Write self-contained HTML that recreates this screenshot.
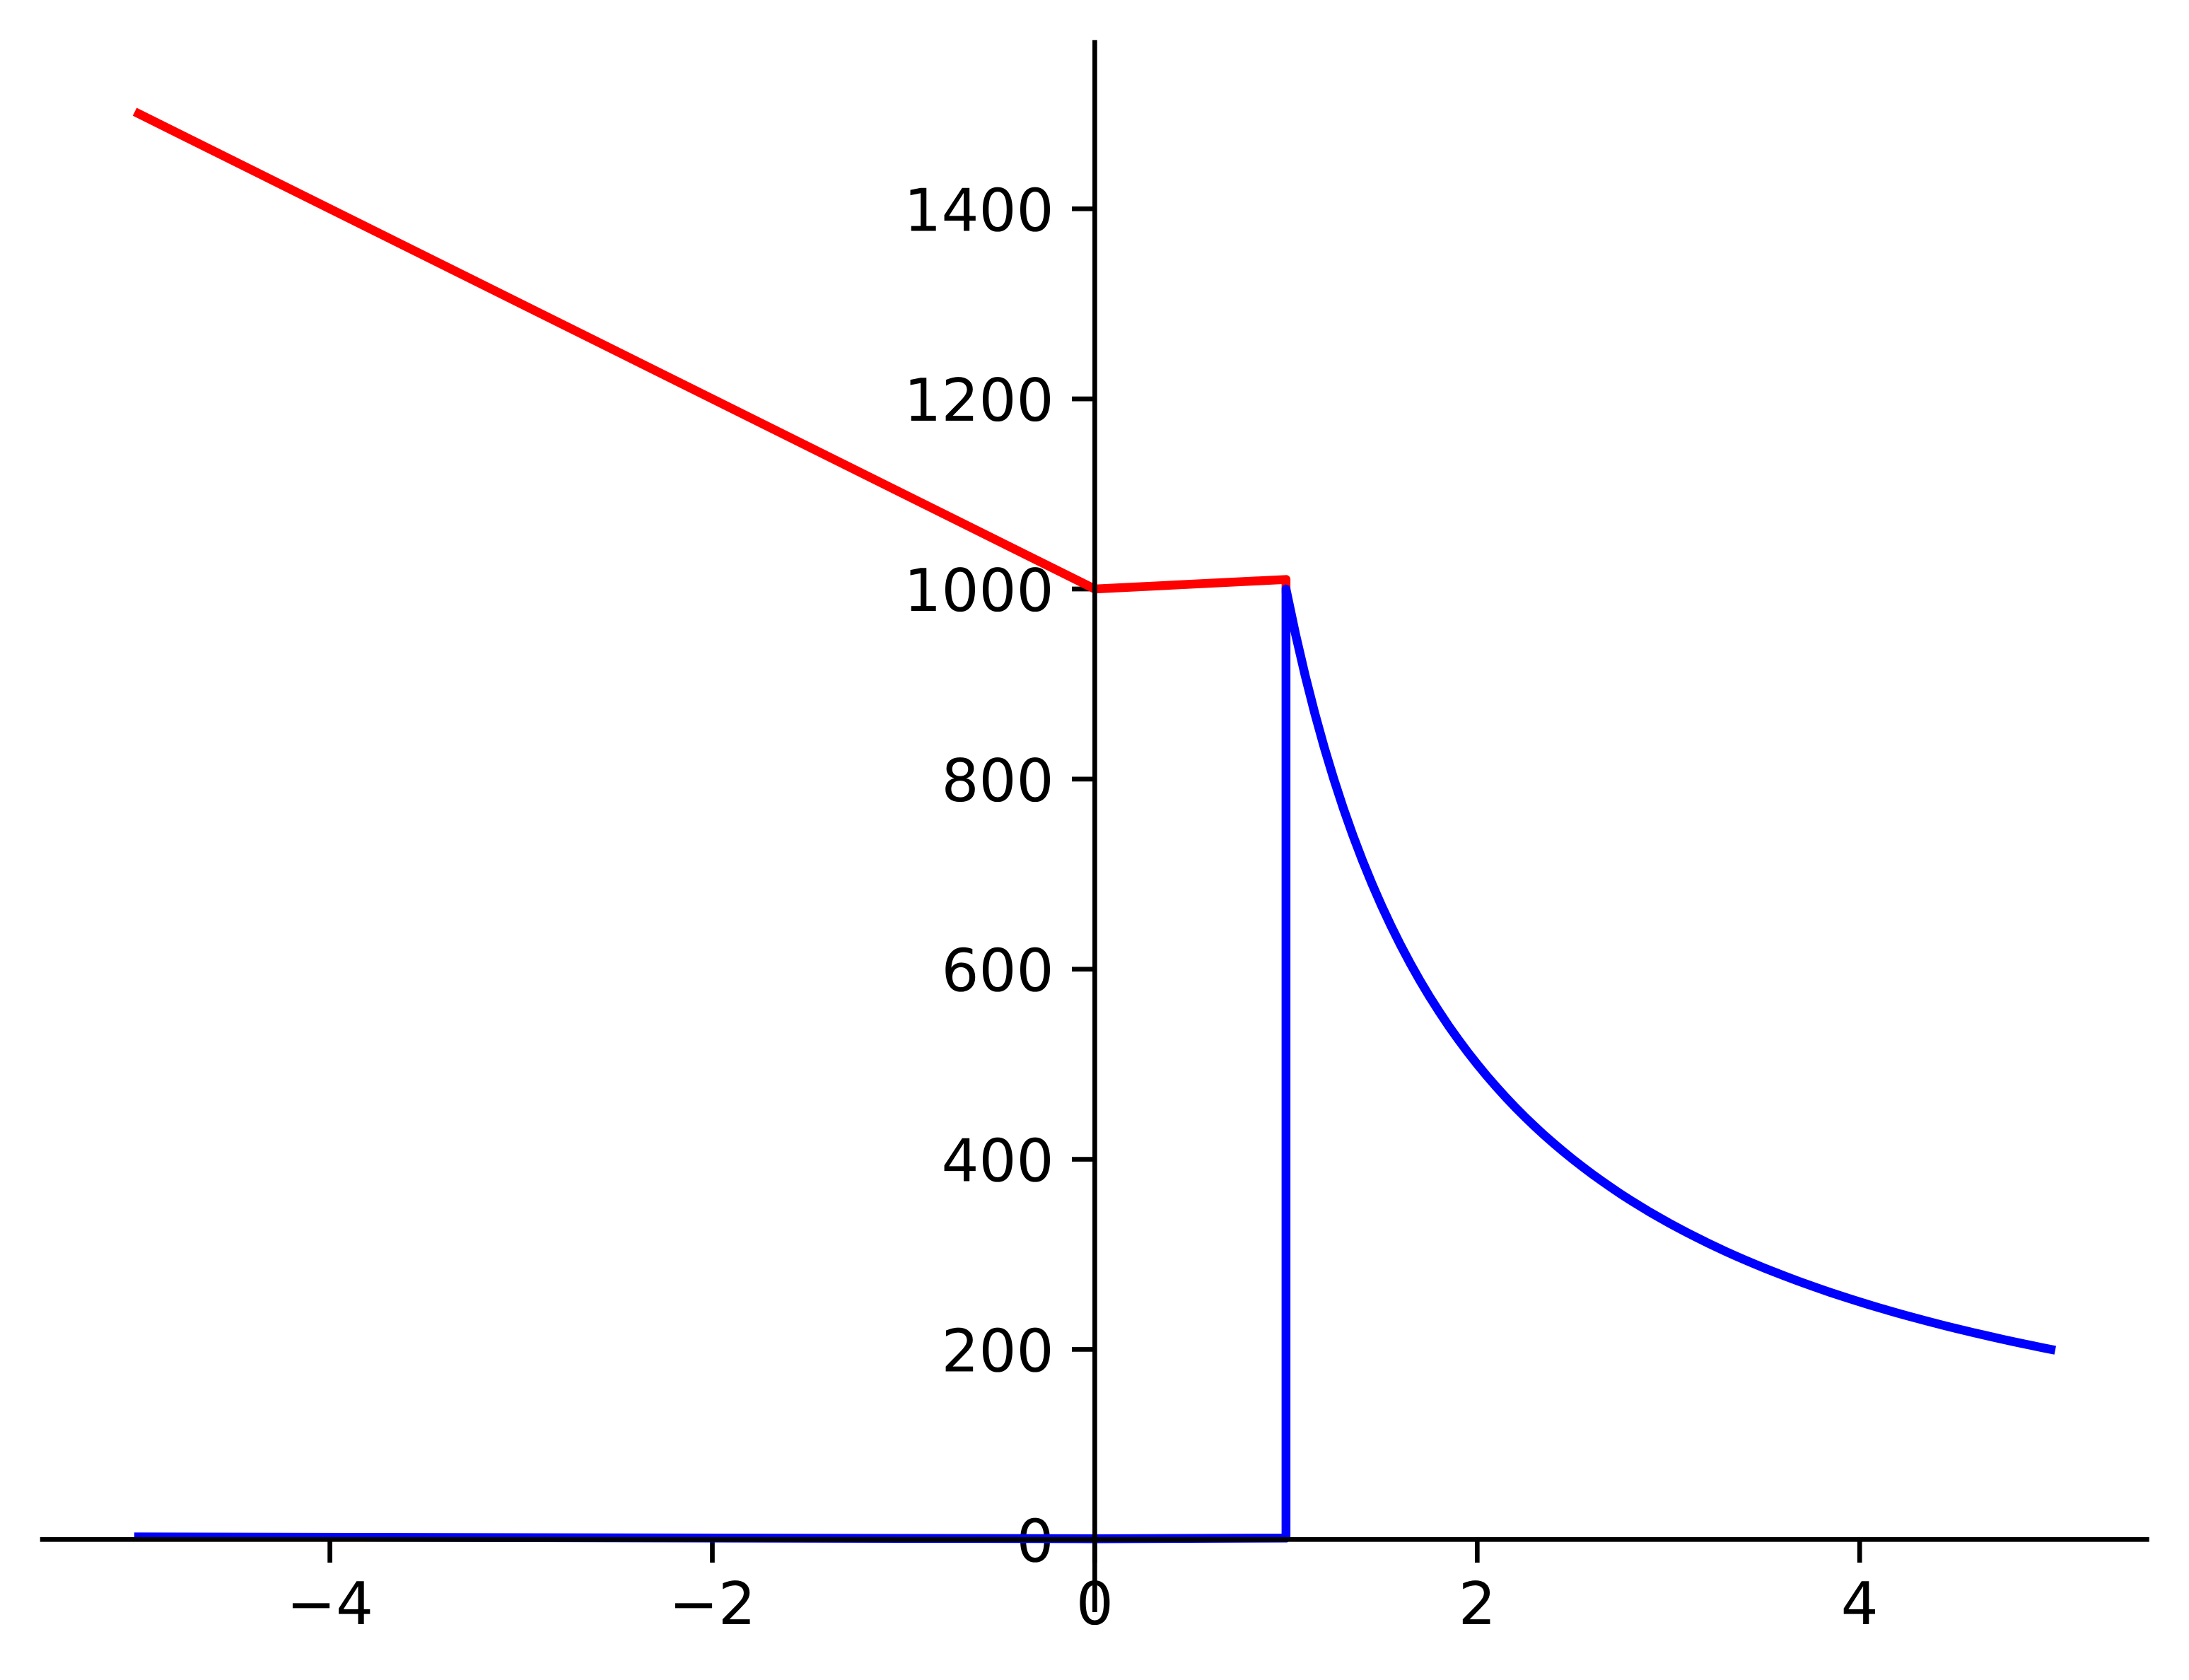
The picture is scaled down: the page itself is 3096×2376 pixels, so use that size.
<!DOCTYPE html>
<html lang="en">
<head>
<meta charset="utf-8">
<title>Piecewise line chart</title>
<style>
  html, body { margin: 0; padding: 0; background: #ffffff; }
  svg { display: block; }
  text { font-family: "DejaVu Sans", "Liberation Sans", sans-serif; font-size: 83.33px; fill: #000; text-rendering: geometricPrecision; }
</style>
</head>
<body>
<svg id="chart" xmlns="http://www.w3.org/2000/svg" width="3096" height="2376" viewBox="0 0 3096 2376">
  <rect x="0" y="0" width="3096" height="2376" fill="#ffffff"></rect>
</svg>
<script>
var xTickValues = [-4, -2, 0, 2, 4];
var xTickLabels = ["\u22124", "\u22122", "0", "2", "4"];
var yTickValues = [0, 200, 400, 600, 800, 1000, 1200, 1400];
var yTickLabels = ["0", "200", "400", "600", "800", "1000", "1200", "1400"];

var redX = [-5, 0, 1, 1];
var redY = [1500, 1000, 1010, 1000];

var blueX = [-5, 0, 1, 1, 1.05, 1.1, 1.15, 1.2, 1.25, 1.3, 1.35, 1.4, 1.45, 1.5, 1.55, 1.6, 1.65, 1.7, 1.75, 1.8, 1.85, 1.9, 1.95, 2, 2.05, 2.1, 2.15, 2.2, 2.25, 2.3, 2.35, 2.4, 2.45, 2.5, 2.55, 2.6, 2.65, 2.7, 2.75, 2.8, 2.85, 2.9, 2.95, 3, 3.05, 3.1, 3.15, 3.2, 3.25, 3.3, 3.35, 3.4, 3.45, 3.5, 3.55, 3.6, 3.65, 3.7, 3.75, 3.8, 3.85, 3.9, 3.95, 4, 4.05, 4.1, 4.15, 4.2, 4.25, 4.3, 4.35, 4.4, 4.45, 4.5, 4.55, 4.6, 4.65, 4.7, 4.75, 4.8, 4.85, 4.9, 4.95, 5];
var blueY = [2.7, 0.8, 1.5, 1000, 952.4, 909.1, 869.6, 833.3, 800, 769.2, 740.7, 714.3, 689.7, 666.7, 645.2, 625, 606.1, 588.2, 571.4, 555.6, 540.5, 526.3, 512.8, 500, 487.8, 476.2, 465.1, 454.5, 444.4, 434.8, 425.5, 416.7, 408.2, 400, 392.2, 384.6, 377.4, 370.4, 363.6, 357.1, 350.9, 344.8, 339, 333.3, 327.9, 322.6, 317.5, 312.5, 307.7, 303, 298.5, 294.1, 289.9, 285.7, 281.7, 277.8, 274, 270.3, 266.7, 263.2, 259.7, 256.4, 253.2, 250, 246.9, 243.9, 241, 238.1, 235.3, 232.6, 229.9, 227.3, 224.7, 222.2, 219.8, 217.4, 215.1, 212.8, 210.5, 208.3, 206.2, 204.1, 202, 200];

var SVG_NS = "http://www.w3.org/2000/svg";
var svg = document.getElementById("chart");

function xScale(v) { return 1548.4 + v * 270.45; }
function yScale(v) { return 2177.3 - v * 1.3443; }

function make(tag, attrs) {
  var el = document.createElementNS(SVG_NS, tag);
  for (var k in attrs) { el.setAttribute(k, attrs[k]); }
  return el;
}

xTickValues.forEach(function (v, i) {
  var px = xScale(v);
  var tick = make("line", { x1: px, x2: px, y1: 2177.3, y2: 2210, stroke: "#000", "stroke-width": 6.67 });
  
  
  svg.appendChild(tick);
  var label = make("text", { x: px, y: 2297.2, "text-anchor": "middle" });
  label.textContent = xTickLabels[i];
  
  
  svg.appendChild(label);
});

yTickValues.forEach(function (v, i) {
  var py = yScale(v);
  var tick = make("line", { x1: 1548.4, x2: 1516, y1: py, y2: py, stroke: "#000", "stroke-width": 6.67 });
  
  
  svg.appendChild(tick);
  var label = make("text", { x: 1490.5, y: py + 31, "text-anchor": "end" });
  label.textContent = yTickLabels[i];
  
  
  svg.appendChild(label);
});

function pointsFor(xs, ys) {
  return xs.map(function (x, i) { return xScale(x).toFixed(2) + "," + yScale(ys[i]).toFixed(2); }).join(" ");
}

var redLine = make("polyline", { points: pointsFor(redX, redY), fill: "none", stroke: "#ff0000", "stroke-width": 12.5, "stroke-linejoin": "round", "stroke-linecap": "square" });


svg.appendChild(redLine);

var blueLine = make("polyline", { points: pointsFor(blueX, blueY), fill: "none", stroke: "#0000ff", "stroke-width": 12.5, "stroke-linejoin": "round", "stroke-linecap": "square" });


svg.appendChild(blueLine);

var xSpine = make("line", { x1: 56.7, x2: 3039.7, y1: 2177.3, y2: 2177.3, stroke: "#000", "stroke-width": 6.67 });


svg.appendChild(xSpine);

var ySpine = make("line", { x1: 1548.4, x2: 1548.4, y1: 56.7, y2: 2280, stroke: "#000", "stroke-width": 6.67 });


svg.appendChild(ySpine);
</script>
</body>
</html>
